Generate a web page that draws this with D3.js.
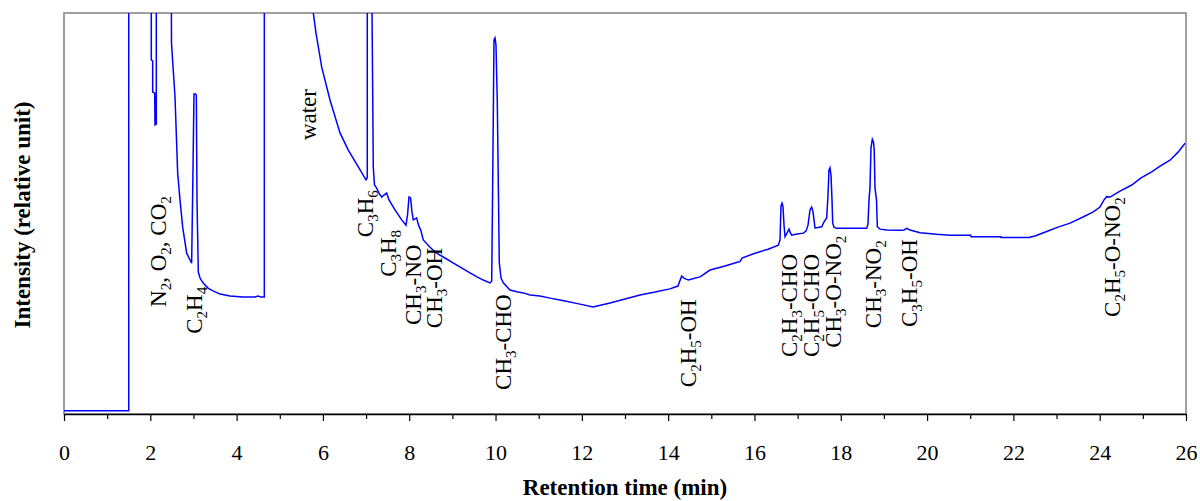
<!DOCTYPE html>
<html>
<head>
<meta charset="utf-8">
<script src="https://cdn.jsdelivr.net/npm/d3@7"></script>
<style>
  html, body { margin: 0; padding: 0; background: #fff; }
  svg { display: block; }
  text { font-family: "Liberation Serif", "Times New Roman", serif; fill: #000; }
</style>
</head>
<body>
<div id="chart"></div>
<script>
// =====================
// DATA
// =====================
const retentionTime = [
  0, 1.50, 1.50, 2.023, 2.023, 2.055, 2.055, 2.102, 2.109, 2.139, 2.139, 2.486,
  2.491, 2.572, 2.61, 2.634, 2.688, 2.75, 2.843, 2.958, 2.99, 3.012, 3.043, 3.066,
  3.082, 3.112, 3.152, 3.221, 3.337, 3.453, 3.615, 3.847, 4.148, 4.426, 4.496, 4.565,
  4.642, 4.642, 5.777, 5.777, 5.84, 5.972, 6.164, 6.396, 6.588, 6.82, 6.998, 7.028,
  7.028, 7.13, 7.153, 7.167, 7.195, 7.23, 7.30, 7.362, 7.415, 7.478, 7.531, 7.67,
  7.825, 7.925, 7.96, 7.995, 8.03, 8.064, 8.094, 8.173, 8.215, 8.266, 8.326, 8.481,
  8.636, 8.828, 9.014, 9.222, 9.408, 9.57, 9.716, 9.872, 9.911, 9.93, 9.964, 9.988,
  10.01, 10.04, 10.069, 10.087, 10.127, 10.18, 10.335, 10.521, 10.643, 10.799, 11.03, 11.262,
  11.61, 11.957, 12.258, 12.652, 13.0, 13.348, 13.696, 14.04, 14.226, 14.314, 14.367, 14.467,
  14.738, 14.97, 15.318, 15.619, 15.665, 15.712, 16.013, 16.314, 16.553, 16.592, 16.615, 16.639,
  16.66, 16.685, 16.708, 16.754, 16.801, 16.835, 16.863, 16.986, 17.132, 17.194, 17.241, 17.287,
  17.326, 17.357, 17.403, 17.472, 17.558, 17.612, 17.674, 17.704, 17.727, 17.75, 17.774, 17.797,
  17.813, 17.843, 17.906, 18.214, 18.601, 18.631, 18.654, 18.677, 18.700, 18.731, 18.759, 18.775,
  18.793, 18.828, 18.847, 18.909, 19.065, 19.373, 19.466, 19.528, 19.604, 19.836, 20.223, 20.531,
  21.01, 21.018, 21.706, 21.713, 22.362, 22.5, 22.772, 23.034, 23.312, 23.59, 23.852, 24.007,
  24.1, 24.162, 24.239, 24.316, 24.471, 24.742, 24.958, 25.205, 25.398, 25.63, 25.816, 25.978
];

const intensity = [
  0.8, 0.8, 110, 110, 88.3, 88.0, 80.3, 80.0, 72.1, 72.3, 110, 110,
  92.5, 79.1, 67.6, 60.1, 53.4, 46.6, 40.1, 37.6, 61.6, 79.8, 79.8, 79.6,
  53.4, 35.4, 33.9, 32.7, 31.4, 30.7, 29.9, 29.4, 29.2, 29.2, 29.4, 29.2,
  29.2, 110, 110, 100, 95.0, 86.5, 78.3, 70.1, 65.8, 61.6, 58.4, 58.9,
  110, 110, 80.8, 61.6, 57.1, 56.6, 55.1, 54.1, 54.6, 55.1, 53.4, 50.9,
  48.4, 47.1, 49.6, 54.1, 53.9, 50.4, 48.4, 48.9, 47.1, 45.9, 43.4, 41.6,
  40.1, 38.9, 37.7, 36.4, 35.2, 34.2, 33.4, 32.7, 33.2, 53.4, 93.3, 93.8,
  92.0, 78.3, 53.4, 37.7, 33.9, 32.7, 30.9, 30.4, 30.2, 29.7, 29.4, 28.9,
  28.2, 27.4, 26.7, 27.7, 28.7, 29.7, 30.4, 31.2, 31.9, 34.4, 33.9, 33.4,
  34.2, 35.9, 36.9, 37.9, 38.0, 38.9, 40.1, 41.1, 42.1, 43.4, 51.9, 52.6,
  51.9, 47.1, 44.2, 45.1, 46.1, 45.1, 44.6, 44.9, 45.1, 45.6, 47.1, 50.9,
  51.6, 50.4, 46.4, 46.5, 46.7, 47.9, 48.9, 54.6, 60.8, 61.4, 59.6, 53.4,
  47.6, 46.6, 46.3, 46.3, 46.3, 47.4, 53.4, 56.4, 66.3, 68.5, 67.8, 65.8,
  56.4, 53.4, 46.7, 46.1, 45.9, 45.8, 45.9, 46.3, 45.9, 45.2, 44.8, 44.6,
  44.6, 44.2, 44.2, 44.0, 44.0, 44.4, 45.5, 46.6, 47.6, 49.0, 50.4, 51.6,
  53.4, 54.2, 54.1, 54.6, 55.6, 57.1, 58.9, 60.4, 61.8, 63.3, 65.3, 67.5
];

// peak labels ("_" marks a subscript digit), placed at (time, intensity)
const peakNames = [
  "N_2, O_2, CO_2", "C_2H_4", "water", "C_3H_6", "C_3H_8", "CH_3-NO", "CH_3-OH",
  "CH_3-CHO", "C_2H_5-OH", "C_2H_3-CHO", "C_2H_5-CHO", "CH_3-O-NO_2", "CH_3-NO_2",
  "C_3H_5-OH", "C_2H_5-O-NO_2"
];
const peakLabelTime = [
  2.364, 3.198, 5.851, 7.172, 7.682, 8.273, 8.759,
  10.347, 14.634, 16.986, 17.484, 17.994, 18.921,
  19.778, 24.482
];
const peakLabelLevel = [
  26.7, 20.0, 68.3, 44.1, 34.2, 22.2, 21.4,
  6.0, 6.7, 14.2, 14.2, 16.5, 21.4,
  21.7, 24.2
];

const majorTicks = d3.range(0, 27, 2);
const minorTicks = d3.range(1, 26, 2);

// =====================
// SVG SETUP
// =====================
const W = 1200, H = 501;
const margin = { top: 13, right: 14, bottom: 87, left: 64 },
      width = W - margin.left - margin.right,
      height = H - margin.top - margin.bottom;

const svg = d3.select("#chart")
  .append("svg")
  .attr("width", W)
  .attr("height", H);

const g = svg.append("g")
  .attr("transform", `translate(${margin.left},${margin.top})`);

// =====================
// SCALES
// =====================
const x = d3.scaleLinear().domain([0, 26]).range([0, width]);
const y = d3.scaleLinear().domain([0, 100]).range([height, 0]);

// =====================
// FRAME
// =====================
g.append("rect")
  .attr("width", width)
  .attr("height", height)
  .attr("fill", "none")
  .attr("stroke", "#808080")
  .attr("stroke-width", 1.5);

svg.append("clipPath")
  .attr("id", "plot-clip")
  .append("rect")
  .attr("width", width)
  .attr("height", height);

// =====================
// TRACE
// =====================
const points = retentionTime.map((t, i) => [t, intensity[i]]);

const line = d3.line()
  .x(d => x(d[0]))
  .y(d => y(d[1]));

g.append("path")
  .datum(points)
  .attr("clip-path", "url(#plot-clip)")
  .attr("fill", "none")
  .attr("stroke", "#0000ff")
  .attr("stroke-width", 1.5)
  .attr("stroke-linejoin", "miter")
  .attr("d", line);

// =====================
// AXES
// =====================
const xAxis = g.append("g")
  .attr("transform", `translate(0,${height})`)
  .call(d3.axisBottom(x).tickValues(majorTicks).tickSize(7).tickSizeOuter(0).tickFormat(d3.format("d")));

xAxis.select(".domain").attr("stroke", "#000").attr("stroke-width", 1.5);
xAxis.selectAll(".tick line").attr("stroke", "#000").attr("stroke-width", 1.2);
xAxis.selectAll(".tick text")
  .attr("y", 46)
  .attr("dy", 0)
  .style("font-family", "'Liberation Serif', 'Times New Roman', serif")
  .style("font-size", "22px")
  .style("fill", "#000");

const xMinor = g.append("g")
  .attr("transform", `translate(0,${height})`)
  .call(d3.axisBottom(x).tickValues(minorTicks).tickSize(5).tickSizeOuter(0).tickFormat(""));
xMinor.select(".domain").remove();
xMinor.selectAll(".tick line").attr("stroke", "#000").attr("stroke-width", 1.2);

// axis titles
svg.append("text")
  .attr("x", margin.left + width / 2)
  .attr("y", 495)
  .attr("text-anchor", "middle")
  .style("font-size", "23px")
  .style("font-weight", "bold")
  .text("Retention time (min)");

svg.append("text")
  .attr("transform", "translate(30,215) rotate(-90)")
  .attr("text-anchor", "middle")
  .style("font-size", "23px")
  .style("font-weight", "bold")
  .text("Intensity (relative unit)");

// =====================
// PEAK LABELS
// =====================
function addFormula(sel, label) {
  const parts = label.split(/(_\d)/).filter(s => s.length);
  let sub = false;
  parts.forEach(p => {
    if (p[0] === "_") {
      sel.append("tspan").attr("dy", 5).style("font-size", "15px").text(p.slice(1));
      sub = true;
    } else {
      const ts = sel.append("tspan").text(p);
      if (sub) ts.attr("dy", -5);
      sub = false;
    }
  });
}

peakNames.forEach((name, i) => {
  const tx = x(peakLabelTime[i]), ty = y(peakLabelLevel[i]);
  const t = g.append("text")
    .attr("transform", `translate(${tx},${ty}) rotate(-90)`)
    .style("font-size", "23px");
  addFormula(t, name);
});
</script>
</body>
</html>
